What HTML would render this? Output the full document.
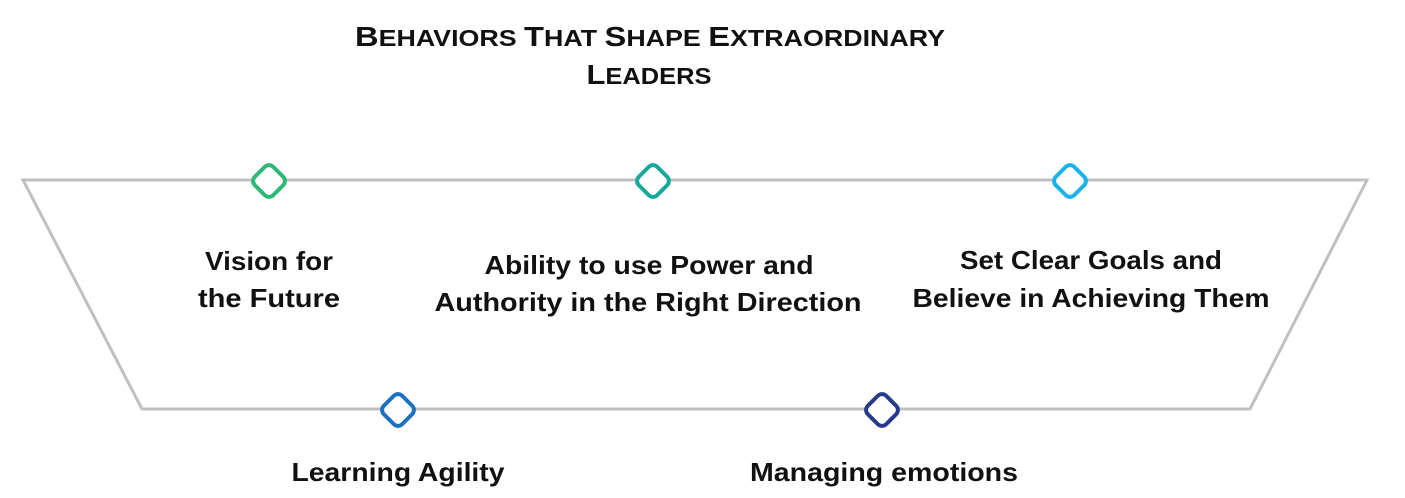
<!DOCTYPE html>
<html><head><meta charset="utf-8"><style>
html,body{margin:0;padding:0;background:#fff;}
svg{display:block}
text{font-family:"Liberation Sans",sans-serif;font-weight:bold;fill:#111;}
</style></head><body>
<svg width="1405" height="498" viewBox="0 0 1405 498" xmlns="http://www.w3.org/2000/svg">
<polygon points="23,180 1367,180 1250,409 142,409" fill="none" stroke="#c0c0c2" stroke-width="3"/>
<g fill="#fff" stroke-width="4">
<rect x="-13" y="-13" width="26" height="26" rx="6" transform="translate(269,181) rotate(45)" stroke="#2db873"/>
<rect x="-13" y="-13" width="26" height="26" rx="6" transform="translate(653,181) rotate(45)" stroke="#17a89a"/>
<rect x="-13" y="-13" width="26" height="26" rx="6" transform="translate(1070,181) rotate(45)" stroke="#1ab2ea"/>
<rect x="-13" y="-13" width="26" height="26" rx="6" transform="translate(398,410) rotate(45)" stroke="#1b70c2"/>
<rect x="-13" y="-13" width="26" height="26" rx="6" transform="translate(882,410) rotate(45)" stroke="#26398c"/>
</g>
<g text-anchor="middle">
<text x="650" y="46" font-size="23" textLength="590" lengthAdjust="spacingAndGlyphs"><tspan font-size="28">B</tspan>EHAVIORS <tspan font-size="28">T</tspan>HAT <tspan font-size="28">S</tspan>HAPE <tspan font-size="28">E</tspan>XTRAORDINARY</text>
<text x="649" y="84" font-size="23" textLength="125" lengthAdjust="spacingAndGlyphs"><tspan font-size="28">L</tspan>EADERS</text>
<g font-size="26">
<text x="269" y="270" textLength="128" lengthAdjust="spacingAndGlyphs">Vision for</text>
<text x="269" y="307" textLength="142" lengthAdjust="spacingAndGlyphs">the Future</text>
<text x="649" y="274" textLength="329" lengthAdjust="spacingAndGlyphs">Ability to use Power and</text>
<text x="648" y="311" textLength="427" lengthAdjust="spacingAndGlyphs">Authority in the Right Direction</text>
<text x="1091" y="269" textLength="262" lengthAdjust="spacingAndGlyphs">Set Clear Goals and</text>
<text x="1091" y="307" textLength="357" lengthAdjust="spacingAndGlyphs">Believe in Achieving Them</text>
<text x="398" y="481" textLength="213" lengthAdjust="spacingAndGlyphs">Learning Agility</text>
<text x="884" y="481" textLength="268" lengthAdjust="spacingAndGlyphs">Managing emotions</text>
</g>
</g>
</svg>
</body></html>
